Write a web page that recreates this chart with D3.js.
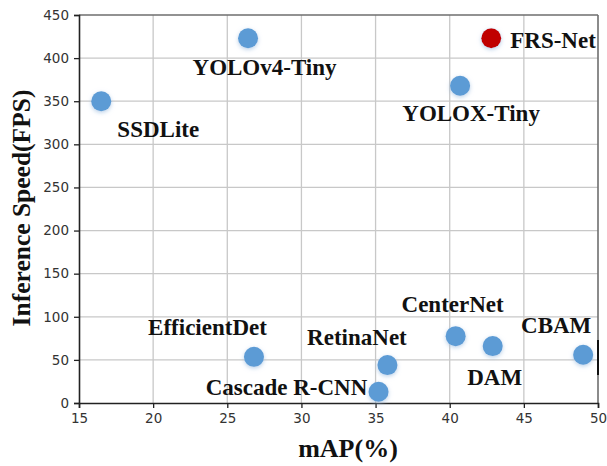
<!DOCTYPE html>
<html>
<head>
<meta charset="utf-8">
<script src="https://cdn.jsdelivr.net/npm/d3@7"></script>
<style>
  html, body { margin: 0; padding: 0; background: #fff; }
  svg { display: block; }
</style>
</head>
<body>
<svg id="chart" width="607" height="466"></svg>
<script>
// ---- data ----
const models = ["SSDLite", "YOLOv4-Tiny", "FRS-Net", "YOLOX-Tiny", "EfficientDet", "RetinaNet", "Cascade R-CNN", "CenterNet", "DAM", "CBAM"];
const mAP = [16.5, 26.4, 42.8, 40.7, 26.8, 35.8, 35.2, 40.4, 42.9, 49.0];
const fps = [350, 423, 423, 368, 53.5, 44, 13, 77.5, 66, 56];
const xTicks = [15, 20, 25, 30, 35, 40, 45, 50];
const yTicks = [0, 50, 100, 150, 200, 250, 300, 350, 400, 450];
const highlight = "FRS-Net";

// ---- layout (label offsets from points, in px) ----
const labelOffsets = {
  "SSDLite": [57, 36, "middle"],
  "YOLOv4-Tiny": [16.5, 37, "middle"],
  "FRS-Net": [19, 10, "start"],
  "YOLOX-Tiny": [11, 35, "middle"],
  "EfficientDet": [-46.5, -22, "middle"],
  "RetinaNet": [-30.5, -20, "middle"],
  "Cascade R-CNN": [-92, 3, "middle"],
  "CenterNet": [-3, -24, "middle"],
  "DAM": [2, 39, "middle"],
  "CBAM": [-27, -22, "middle"]
};

const svg = d3.select("#chart");
const L = 79, R = 598, T = 15, B = 403;

const x = d3.scaleLinear().domain([15, 50]).range([L, R]);
const y = d3.scaleLinear().domain([0, 450]).range([B, T]);

const defs = svg.append("defs");
const f = defs.append("filter").attr("id", "glow").attr("x", "-50%").attr("y", "-50%").attr("width", "200%").attr("height", "200%");
f.append("feDropShadow").attr("dx", 0).attr("dy", 1.5).attr("stdDeviation", 2).attr("flood-color", "#9bbce0").attr("flood-opacity", 0.7);

// grid
const grid = svg.append("g");
grid.selectAll("line.gx").data(xTicks.slice(1, -1)).join("line")
  .attr("x1", d => x(d)).attr("x2", d => x(d)).attr("y1", T).attr("y2", B)
  .attr("stroke", "#c8c8c8").attr("stroke-width", 1.3);
grid.selectAll("line.gy").data(yTicks.slice(1, -1)).join("line")
  .attr("y1", d => y(d)).attr("y2", d => y(d)).attr("x1", L).attr("x2", R)
  .attr("stroke", "#c8c8c8").attr("stroke-width", 1.3);

// top/right frame
svg.append("line").attr("x1", L).attr("x2", R).attr("y1", T).attr("y2", T).attr("stroke", "#6e6e6e").attr("stroke-width", 1.6);
svg.append("line").attr("x1", R).attr("x2", R).attr("y1", T).attr("y2", B).attr("stroke", "#6e6e6e").attr("stroke-width", 1.6);
svg.append("line").attr("x1", R).attr("x2", R).attr("y1", 340).attr("y2", 375).attr("stroke", "#111").attr("stroke-width", 2);

// axes
const xAxis = svg.append("g").attr("transform", `translate(0,${B})`)
  .call(d3.axisBottom(x).tickValues(xTicks).tickSize(5).tickPadding(5));
const yAxis = svg.append("g").attr("transform", `translate(${L},0)`)
  .call(d3.axisLeft(y).tickValues(yTicks).tickSize(5).tickPadding(5));
[xAxis, yAxis].forEach(g => {
  g.select(".domain").attr("stroke", "#222").attr("stroke-width", 1.6);
  g.selectAll(".tick line").attr("stroke", "#222").attr("stroke-width", 1.3);
  g.selectAll(".tick text").attr("fill", "#333").style("font-family", "DejaVu Sans, sans-serif").style("font-size", "13.5px");
});

// points
const data = models.map((m, i) => ({ name: m, x: mAP[i], y: fps[i] }));
svg.append("g").selectAll("circle").data(data).join("circle")
  .attr("cx", d => x(d.x)).attr("cy", d => y(d.y)).attr("r", 10)
  .attr("fill", d => d.name === highlight ? "#c00000" : "#5b9bd5")
  .attr("filter", "url(#glow)");

// labels
svg.append("g").selectAll("text").data(data).join("text")
  .attr("x", d => x(d.x) + labelOffsets[d.name][0])
  .attr("y", d => y(d.y) + labelOffsets[d.name][1])
  .attr("text-anchor", d => labelOffsets[d.name][2])
  .style("font-family", "Liberation Serif, Times New Roman, serif")
  .style("font-weight", "bold").style("font-size", "23px").attr("fill", "#111")
  .text(d => d.name);

// axis titles
svg.append("text").attr("x", 348).attr("y", 457).attr("text-anchor", "middle")
  .style("font-family", "Liberation Serif, Times New Roman, serif")
  .style("font-weight", "bold").style("font-size", "26px").attr("fill", "#111")
  .text("mAP(%)");
svg.append("text").attr("transform", `translate(30,208) rotate(-90)`).attr("text-anchor", "middle")
  .style("font-family", "Liberation Serif, Times New Roman, serif")
  .style("font-weight", "bold").style("font-size", "25.5px").attr("fill", "#111")
  .text("Inference Speed(FPS)");
</script>
</body>
</html>
